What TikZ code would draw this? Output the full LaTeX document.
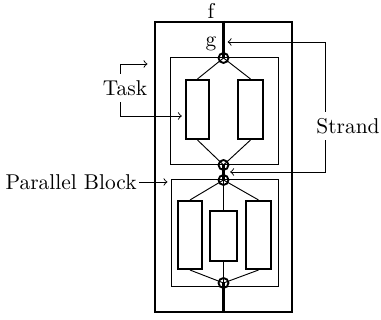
\documentclass[tikz,border=0pt]{standalone}
\usetikzlibrary{fit}
\begin{document}
\begin{tikzpicture}[x=0.483pt,y=-0.483pt,
 outerbox/.style={draw, line width=1.3pt, inner sep=0pt},
 blockbox/.style={draw, line width=0.45pt, inner sep=0pt},
 taskbox/.style={draw, line width=1pt, inner sep=0pt},
 joinpt/.style={circle, draw, line width=0.9pt, minimum size=4.8pt, inner sep=0pt},
 heavylink/.style={line width=1pt},
 lightlink/.style={line width=0.45pt},
 ann/.style={line width=0.45pt},
 lbl/.style={inner sep=0pt, font=\fontsize{10.35}{12}\selectfont}]
\useasboundingbox (0,0) rectangle (381,320);
% boxes
\node[outerbox, fit={(155,22) (292,312)}] (f) {};
\node[blockbox, fit={(170,57) (278,164)}] (b1) {};
\node[blockbox, fit={(171,179) (278,286)}] (b2) {};
\node[taskbox, fit={(186,80) (209,139)}] (t1) {};
\node[taskbox, fit={(238,80) (263,139)}] (t2) {};
\node[taskbox, fit={(178,201) (202,269)}] (t3) {};
\node[taskbox, fit={(210,211) (237,261)}] (t4) {};
\node[taskbox, fit={(246,201) (271,269)}] (t5) {};
% join points
\node[joinpt] (g1) at (223.5,58) {};
\node[joinpt] (j1) at (223.5,165) {};
\node[joinpt] (j2) at (223.5,180) {};
\node[joinpt] (j3) at (223.5,283) {};
% links
\draw[heavylink] (f.north) -- (g1.center);
\draw[lightlink] (g1.center) -- (t1.north);
\draw[lightlink] (g1.center) -- (t2.north);
\draw[lightlink] (t1.south) -- (j1.center);
\draw[lightlink] (t2.south) -- (j1.center);
\draw[heavylink] (j1.center) -- (j2.center);
\draw[lightlink] (j2.center) -- (t3.north);
\draw[lightlink] (j2.center) -- (t4.north);
\draw[lightlink] (j2.center) -- (t5.north);
\draw[lightlink] (t3.south) -- (j3.center);
\draw[lightlink] (t4.south) -- (j3.center);
\draw[lightlink] (t5.south) -- (j3.center);
\draw[heavylink] (j3.center) -- (f.south);
% labels
\node[lbl] (flbl) at (211,11) {f};
\node[lbl] (glbl) at (211,44) {g};
\node[lbl] (task) at (125,88) {Task};
\node[lbl, anchor=east] (par) at (137,182) {Parallel Block};
\node[lbl] (strand) at (348,126) {Strand};
% annotation coordinates
\coordinate (tx) at (120,0);
\coordinate (sx) at (325,0);
\coordinate (ya) at (0,64);
\coordinate (yb) at (0,116);
\coordinate (yc) at (0,42);
\coordinate (yd) at (0,172);
% annotations
\draw[ann,->,shorten >=3pt] ([yshift=3pt]task.north -| tx) |- (f.west |- ya);
\draw[ann,->,shorten >=1.5pt] ([yshift=-3pt]task.south -| tx) |- (t1.west |- yb);
\draw[ann,->,shorten >=1.5pt] ([xshift=1pt]par.east) -- (b2.west |- par.east);
\draw[ann,->,shorten >=2pt] ([yshift=3pt]strand.north -| sx) |- (g1 |- yc);
\draw[ann,->,shorten >=3.2pt] ([yshift=-3pt]strand.south -| sx) |- (j1 |- yd);
\end{tikzpicture}
\end{document}
